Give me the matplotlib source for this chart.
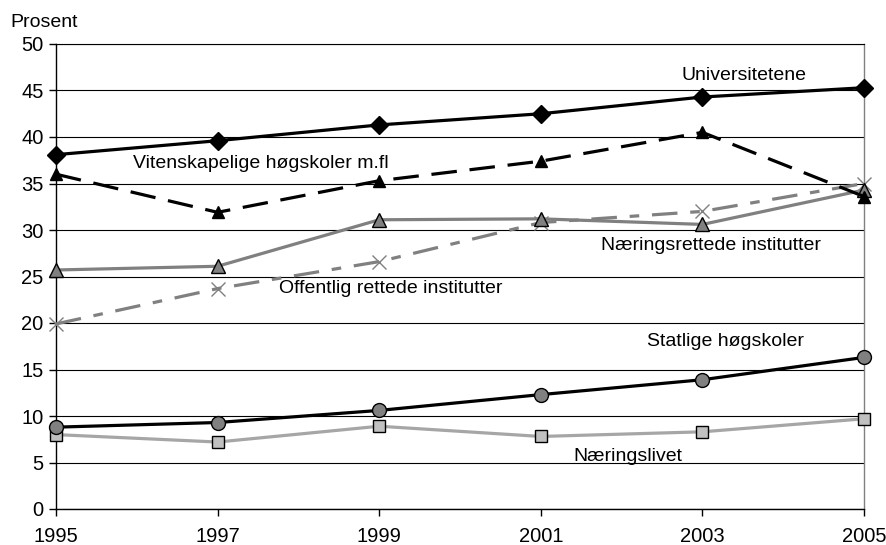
import matplotlib
matplotlib.use("Agg")
import matplotlib.pyplot as plt

plt.rcParams['font.family'] = ['Liberation Sans', 'DejaVu Sans']

years = [1995, 1997, 1999, 2001, 2003, 2005]
universitetene = [38.1, 39.6, 41.3, 42.5, 44.3, 45.3]
vitenskapelige = [36.0, 31.9, 35.3, 37.4, 40.5, 33.6]
naeringsrettede = [25.7, 26.1, 31.1, 31.2, 30.6, 34.3]
offentlig = [19.9, 23.7, 26.6, 30.8, 32.0, 35.0]
statlige = [8.8, 9.3, 10.6, 12.3, 13.9, 16.3]
naeringslivet = [8.0, 7.2, 8.9, 7.8, 8.3, 9.7]
yticks = [0, 5, 10, 15, 20, 25, 30, 35, 40, 45, 50]

fig = plt.figure(figsize=(8.86, 5.45), dpi=100)
ax = fig.add_axes([56/886, 1-509/545, (864-56)/886, (509-44)/545])

lw = 2.3
ax.plot(years, naeringslivet, color='#a6a6a6', lw=lw, marker='s', ms=9,
        mfc='#c0c0c0', mec='black', mew=1, zorder=3, clip_on=False)
ax.plot(years, statlige, color='black', lw=lw, marker='o', ms=10,
        mfc='#808080', mec='black', mew=1, zorder=3, clip_on=False)
ax.plot(years, offentlig, color='#808080', lw=lw, marker='x', ms=10,
        mec='#808080', mew=1, dashes=(8, 4, 3, 4), zorder=3, clip_on=False)
ax.plot(years, naeringsrettede, color='#808080', lw=lw, marker='^', ms=10,
        mfc='#808080', mec='black', mew=1, zorder=3, clip_on=False)
ax.plot(years, vitenskapelige, color='black', lw=lw, marker='^', ms=9,
        mfc='black', mec='black', dashes=(8, 4), zorder=3, clip_on=False)
ax.plot(years, universitetene, color='black', lw=lw, marker='D', ms=9,
        mfc='black', mec='black', zorder=4, clip_on=False)

fs = 14
ax.text(2003.51, 46.13, 'Universitetene', ha='center', va='baseline', fontsize=fs)
ax.text(1995.95, 36.67, 'Vitenskapelige høgskoler m.fl', ha='left', va='baseline', fontsize=fs)
ax.text(2001.75, 27.85, 'Næringsrettede institutter', ha='left', va='baseline', fontsize=fs)
ax.text(1997.76, 23.26, 'Offentlig rettede institutter', ha='left', va='baseline', fontsize=fs)
ax.text(2002.31, 17.53, 'Statlige høgskoler', ha='left', va='baseline', fontsize=fs)
ax.text(2002.75, 5.16, 'Næringslivet', ha='right', va='baseline', fontsize=fs)

ax.set_xlim(1995, 2005)
ax.set_ylim(0, 50)
ax.set_xticks(years)
ax.set_yticks(yticks)
ax.tick_params(axis='both', labelsize=14.5, direction='out', length=5, width=1)
ax.tick_params(axis='x', pad=8)
ax.tick_params(axis='y', pad=4)
ax.grid(axis='y', color='black', lw=0.8)
ax.set_axisbelow(True)
for s in ['left', 'bottom']:
    ax.spines[s].set_color('black')
    ax.spines[s].set_linewidth(1)
ax.spines['top'].set_color('black')
ax.spines['top'].set_linewidth(0.8)
ax.spines['right'].set_color('#808080')
ax.spines['right'].set_linewidth(1)

fig.text(10/886, 1-27/545, 'Prosent', ha='left', va='baseline', fontsize=14)

fig.savefig('out.png', dpi=100)
